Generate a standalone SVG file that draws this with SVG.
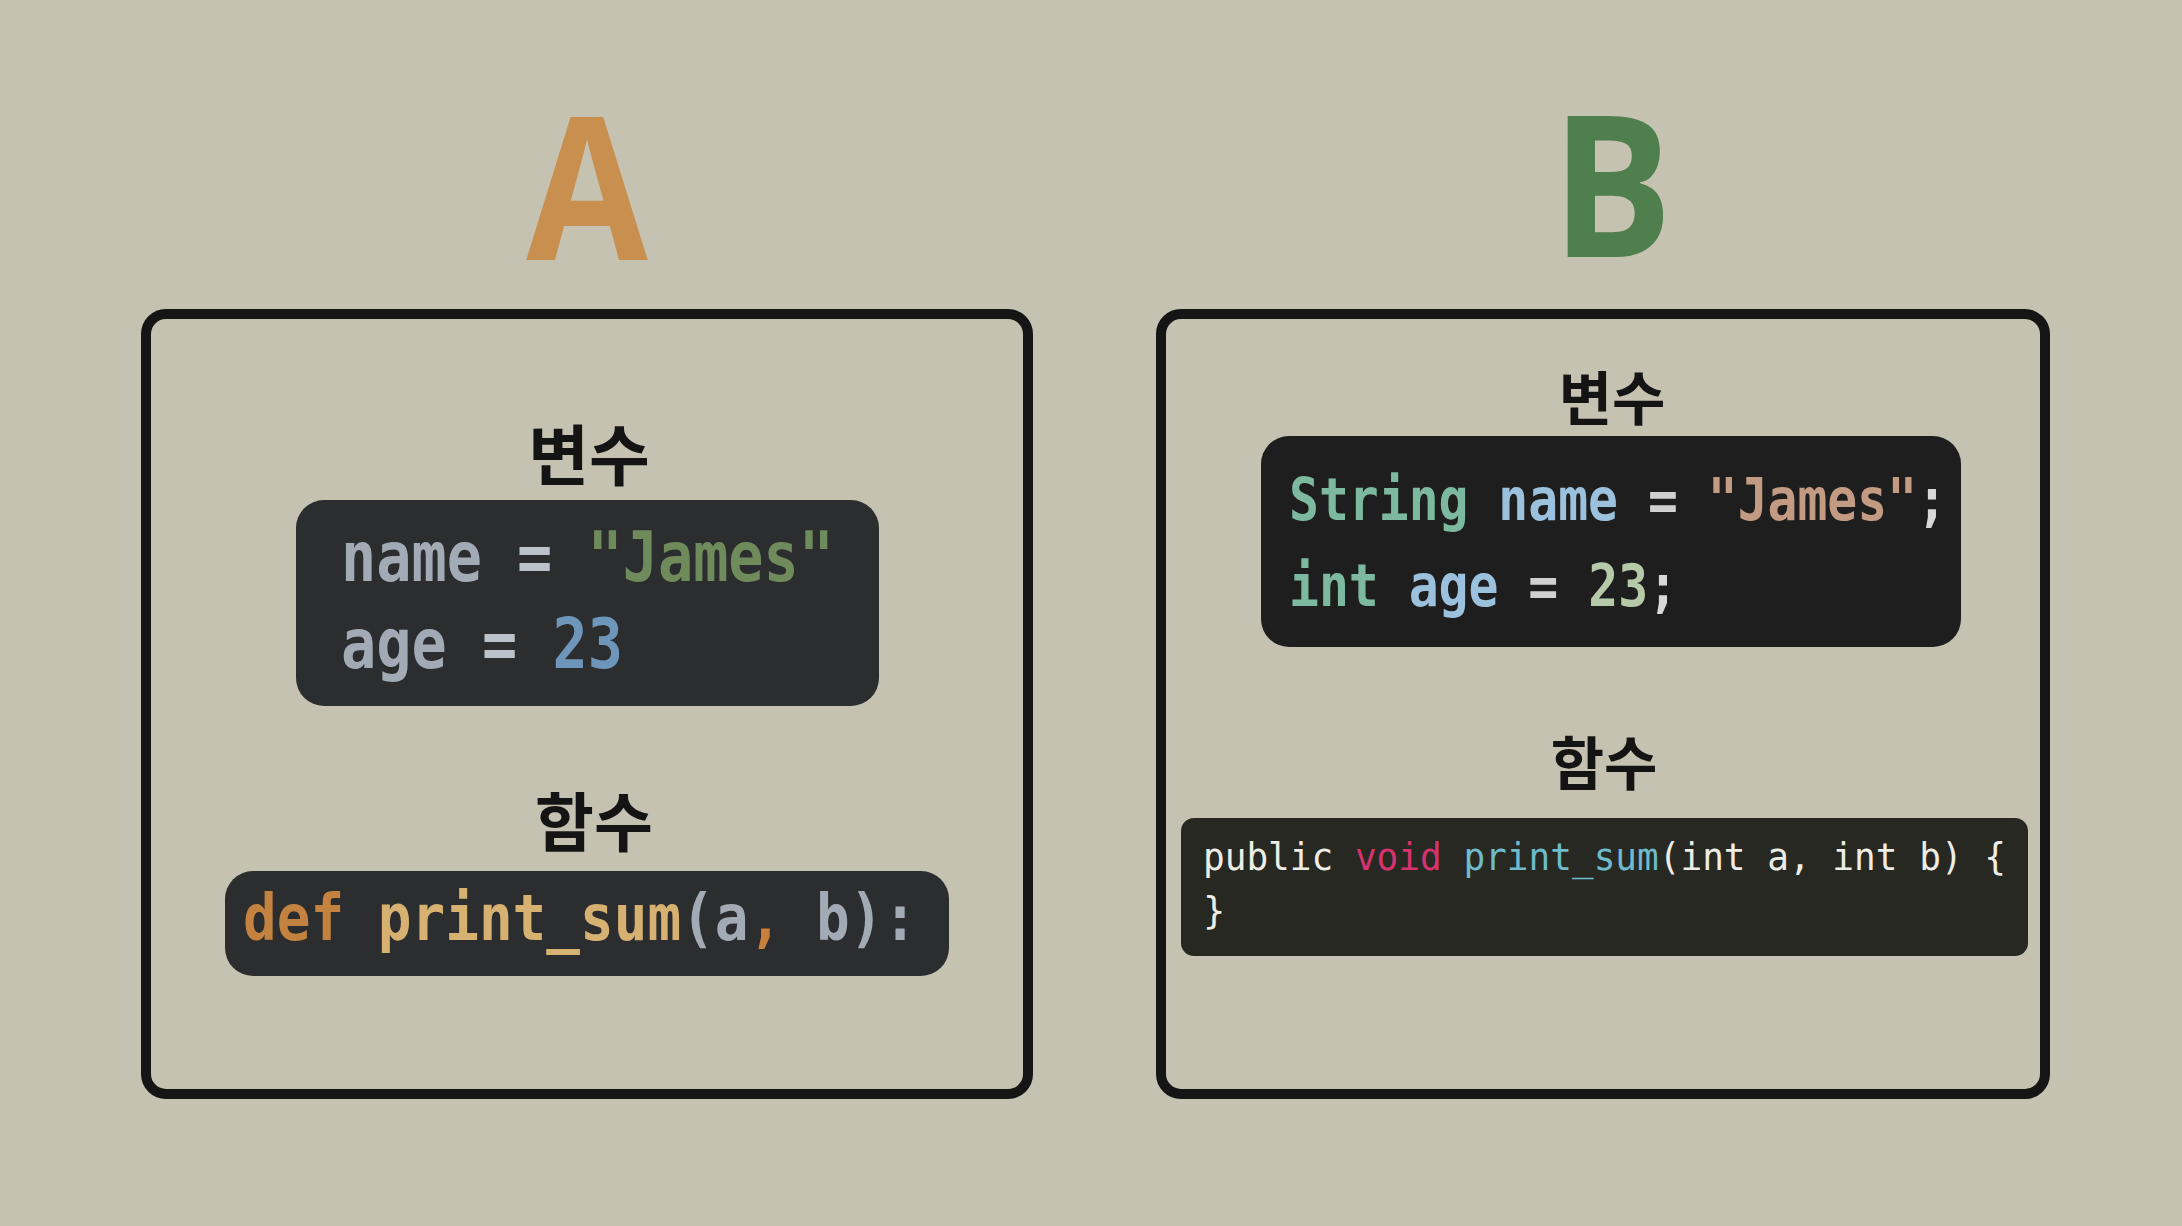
<svg xmlns="http://www.w3.org/2000/svg" width="2182" height="1226" viewBox="0 0 2182 1226">
<style>
.bg{fill:#C5C2B1}
.frame{fill:none;stroke:#151515;stroke-width:10}
.big{font-family:"Open Sans","Noto Sans",sans-serif;font-weight:700;text-anchor:middle}
.ko{font-family:"Noto Sans CJK KR","Noto Sans",sans-serif;font-weight:700;fill:#141414;text-anchor:middle}
.code{font-family:"DejaVu Sans Mono","Liberation Mono",monospace;white-space:pre}
.bold{font-weight:700}
</style>
<rect class="bg" x="0" y="0" width="2182" height="1226"/>
<g id="title-A"><text class="big" transform="translate(587,260) scale(0.88,1)" x="0" y="0" font-size="200" fill="#C98F4F">A</text></g>
<g id="title-B"><text class="big" transform="translate(1612,257) scale(0.91,1)" x="0" y="0" font-size="198" fill="#4F7F4D">B</text></g>
<g id="panel-A">
<rect class="frame" x="146" y="314" width="882" height="780" rx="20"/>
<text class="ko" x="589" y="480" font-size="66">변수</text>
<rect x="296" y="500" width="583" height="206" rx="28" fill="#2B2D2E"/>
<text class="code bold" x="341" y="581" font-size="70" textLength="493" lengthAdjust="spacingAndGlyphs"><tspan fill="#A2AAB6">name</tspan><tspan fill="#BCC2CA"> = </tspan><tspan fill="#6F8B5B">"James"</tspan></text>
<text class="code bold" x="341" y="668" font-size="70" textLength="282" lengthAdjust="spacingAndGlyphs"><tspan fill="#A2AAB6">age</tspan><tspan fill="#BCC2CA"> = </tspan><tspan fill="#6E96BA">23</tspan></text>
<text class="ko" x="594" y="846" font-size="64">함수</text>
<rect x="225" y="871" width="724" height="105" rx="28" fill="#2B2D2E"/>
<text class="code bold" x="243" y="940" font-size="64" textLength="674" lengthAdjust="spacingAndGlyphs"><tspan fill="#C3823F">def</tspan><tspan fill="#D7B171"> print_sum</tspan><tspan fill="#A2AAB6">(a</tspan><tspan fill="#C8803C">,</tspan><tspan fill="#A2AAB6"> b):</tspan></text>
</g>
<g id="panel-B">
<rect class="frame" x="1161" y="314" width="884" height="780" rx="20"/>
<text class="ko" x="1612" y="420" font-size="58">변수</text>
<rect x="1261" y="436" width="700" height="211" rx="28" fill="#1E1E1E"/>
<text class="code bold" x="1289" y="520" font-size="59" textLength="658" lengthAdjust="spacingAndGlyphs"><tspan fill="#7DB9A0">String</tspan><tspan fill="#9CC1DD"> name</tspan><tspan fill="#D0D0D0"> = </tspan><tspan fill="#C39B83">"James"</tspan><tspan fill="#D8D8D8">;</tspan></text>
<text class="code bold" x="1289" y="606" font-size="59" textLength="389" lengthAdjust="spacingAndGlyphs"><tspan fill="#7DB9A0">int</tspan><tspan fill="#9CC1DD"> age</tspan><tspan fill="#D0D0D0"> = </tspan><tspan fill="#B6CAA9">23</tspan><tspan fill="#D8D8D8">;</tspan></text>
<text class="ko" x="1604" y="785" font-size="58">함수</text>
<rect x="1181" y="818" width="847" height="138" rx="13" fill="#272822"/>
<text class="code" x="1203" y="870" font-size="37" textLength="803" lengthAdjust="spacingAndGlyphs"><tspan fill="#EDEDE6">public </tspan><tspan fill="#D4336E">void</tspan><tspan fill="#6FBBCC"> print_sum</tspan><tspan fill="#EDEDE6">(int a, int b) {</tspan></text>
<text class="code" x="1203" y="924" font-size="37" fill="#EDEDE6">}</text>
</g>
</svg>
